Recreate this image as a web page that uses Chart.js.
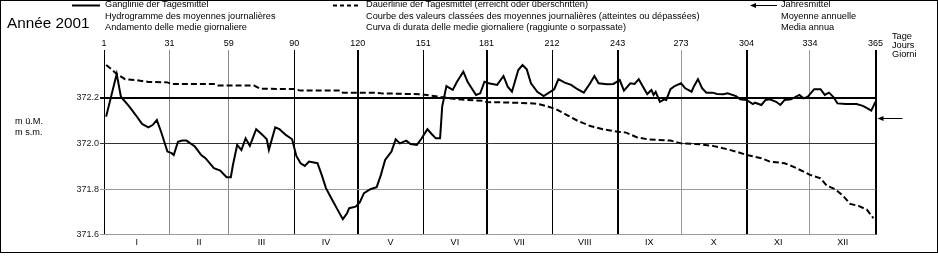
<!DOCTYPE html>
<html>
<head>
<meta charset="utf-8">
<script src="https://cdn.jsdelivr.net/npm/chart.js@4.4.0/dist/chart.umd.min.js"></script>
<style>
  body { margin: 0; background: #fff; }
  #wrap { position: relative; width: 938px; height: 256px; font-family: "Liberation Sans", Arial, sans-serif; color: #000; }
  #wrap canvas { position: absolute; left: 0; top: 0; }
  .t { position: absolute; white-space: nowrap; font-size: 9.2px; line-height: 11.5px; }
  #frame { position: absolute; left: 0; top: 0; width: 938px; height: 253px; box-sizing: border-box; border: 1px solid #000; pointer-events: none; }
</style>
</head>
<body>
<div id="wrap">
  <canvas id="chart" width="938" height="256"></canvas>
  <div id="frame"></div>
  <div class="t" style="left:7px;top:15px;font-size:15.3px;line-height:16px">Année 2001</div>
  <div class="t" style="left:105px;top:-1px">Ganglinie der Tagesmittel<br>Hydrogramme des moyennes journalières<br>Andamento delle medie giornaliere</div>
  <div class="t" style="left:366px;top:-1px">Dauerlinie der Tagesmittel (erreicht oder überschritten)<br>Courbe des valeurs classées des moyennes journalières (atteintes ou dépassées)<br>Curva di durata delle medie giornaliere (raggiunte o sorpassate)</div>
  <div class="t" style="left:781px;top:-1px">Jahresmittel<br>Moyenne annuelle<br>Media annua</div>
  <div class="t" style="left:15px;top:116px;line-height:11px">m ü.M.<br>m s.m.</div>
  <div class="t" style="left:892px;top:31px">Tage</div>
  <div class="t" style="left:892px;top:39.5px">Jours</div>
  <div class="t" style="left:892px;top:48.5px">Giorni</div>
</div>
<script>
// month boundaries (day of year) and their labels
const monthEnds = [0, 31, 59, 90, 120, 151, 181, 212, 243, 273, 304, 334, 365];
const dayLabels = ["1", "31", "59", "90", "120", "151", "181", "212", "243", "273", "304", "334", "365"];
const monthNames = ["I", "II", "III", "IV", "V", "VI", "VII", "VIII", "IX", "X", "XI", "XII"];
const yTicks = [371.6, 371.8, 372.0, 372.2];

// Ganglinie der Tagesmittel (m ü.M.)
const hydroDays = [1, 6, 8, 12, 15, 18, 21, 23, 25, 27, 30, 32, 33, 35, 37, 39, 43, 46, 48, 52, 55, 58, 60,
  61, 63, 65, 67, 69, 72, 75, 77, 78, 81, 83, 86, 89, 91, 93, 95, 97, 101, 103, 105, 108, 111, 113, 115, 116, 119,
  121, 123, 126, 129, 131, 133, 136, 138, 140, 143, 145, 148, 150, 153, 155, 157, 159, 160, 162, 165, 167, 170,
  172, 176, 178, 180, 182, 186, 189, 191, 193, 196, 198, 200, 202, 205, 208, 210, 213, 215, 218, 221, 224, 227,
  230, 232, 234, 238, 241, 244, 246, 249, 251, 253, 255, 257, 259, 260, 261, 263, 265, 266, 268, 270, 273, 275,
  278, 279, 281, 283, 285, 288, 290, 293, 295, 299, 301, 304, 307, 308, 311, 313, 315, 318, 320, 322, 325, 329,
  331, 333, 336, 339, 341, 343, 345, 347, 351, 356, 359, 361, 363, 365];
const hydroLevels = [372.117, 372.304, 372.204, 372.161, 372.124, 372.085, 372.070, 372.080, 372.102, 372.051,
  371.964, 371.957, 371.949, 372.007, 372.012, 372.012, 371.986, 371.949, 371.935, 371.891, 371.881, 371.852, 371.852,
  371.905, 371.993, 371.971, 372.022, 371.989, 372.062, 372.037, 372.018, 371.971, 372.070, 372.062, 372.037, 372.018,
  371.945, 371.913, 371.901, 371.920, 371.913, 371.862, 371.804, 371.752, 371.701, 371.668, 371.694, 371.716, 371.723,
  371.741, 371.782, 371.799, 371.808, 371.862, 371.927, 371.964, 372.018, 372.000, 372.012, 371.997, 371.993, 372.018,
  372.062, 372.041, 372.022, 372.022, 372.161, 372.251, 372.234, 372.270, 372.314, 372.270, 372.212, 372.219, 372.270,
  372.263, 372.256, 372.295, 372.248, 372.226, 372.321, 372.343, 372.324, 372.263, 372.226, 372.207, 372.219, 372.237,
  372.281, 372.266, 372.256, 372.237, 372.222, 372.263, 372.295, 372.263, 372.259, 372.260, 372.277, 372.231, 372.263,
  372.260, 372.281, 372.248, 372.216, 372.234, 372.212, 372.226, 372.182, 372.193, 372.190, 372.237, 372.251, 372.263,
  372.241, 372.226, 372.248, 372.281, 372.241, 372.222, 372.222, 372.216, 372.215, 372.219, 372.207, 372.193, 372.190,
  372.172, 372.178, 372.168, 372.190, 372.193, 372.182, 372.168, 372.190, 372.193, 372.212, 372.197, 372.204, 372.237,
  372.237, 372.212, 372.222, 372.204, 372.175, 372.172, 372.172, 372.164, 372.154, 372.143, 372.182];

// Dauerlinie der Tagesmittel (erreicht oder überschritten)
const durationDays = [1, 3, 6, 10, 15, 21, 30, 32, 52, 54, 71, 74, 90, 93, 112, 113, 128, 131, 150, 158, 167, 179,
  181, 194, 203, 206, 209, 214, 219, 224, 230, 236, 243, 247, 252, 257, 262, 268, 273, 282, 288, 295, 299, 304, 311,
  315, 322, 326, 331, 334, 339, 342, 346, 350, 353, 357, 361, 364];
const durationLevels = [372.343, 372.329, 372.304, 372.281, 372.277, 372.269, 372.267, 372.260, 372.260, 372.253,
  372.253, 372.239, 372.238, 372.231, 372.231, 372.222, 372.222, 372.219, 372.215, 372.205, 372.193, 372.186, 372.181,
  372.178, 372.175, 372.171, 372.164, 372.149, 372.124, 372.099, 372.076, 372.062, 372.051, 372.047, 372.027, 372.018,
  372.015, 372.012, 372.000, 371.996, 371.989, 371.974, 371.964, 371.949, 371.935, 371.920, 371.913, 371.898, 371.876,
  371.862, 371.847, 371.814, 371.799, 371.767, 371.735, 371.726, 371.709, 371.672];

const annualMean = 372.11;

// look of the month lines, as in the original print
const vColors = ["#000", "#888", "#888", "#000", "#000", "#000", "#000", "#000", "#000", "#999", "#000", "#999", "#000"];
const vWidths = [1, 1, 1, 1, 2, 1, 2, 1, 2, 1, 2, 1, 2];
const hStyle = { "371.6": ["#999", 1], "371.8": ["#999", 1], "372": ["#333", 1], "372.2": ["#000", 2] };

const monthMids = monthNames.map((m, i) => (monthEnds[i] + monthEnds[i + 1]) / 2);

const arrowPlugin = {
    id: "arrows",
    afterDraw(chart) {
        const ctx = chart.ctx;
        const area = chart.chartArea;
        ctx.save();
        ctx.strokeStyle = "#000";
        ctx.fillStyle = "#000";

        // legend samples
        ctx.lineWidth = 2;
        ctx.beginPath(); ctx.moveTo(72, 5.5); ctx.lineTo(100, 5.5); ctx.stroke();
        ctx.setLineDash([4, 3]);
        ctx.beginPath(); ctx.moveTo(333, 5.5); ctx.lineTo(359, 5.5); ctx.stroke();
        ctx.setLineDash([]);
        drawArrow(ctx, 750, 777, 5.5);

        // annual mean
        const y = chart.scales.y.getPixelForValue(annualMean);
        drawArrow(ctx, area.right + 2, area.right + 27, Math.round(y) + 0.5);
        ctx.restore();
    }
};

function drawArrow(ctx, x0, x1, y) {
    ctx.lineWidth = 1;
    ctx.beginPath(); ctx.moveTo(x0 + 4, y); ctx.lineTo(x1, y); ctx.stroke();
    ctx.beginPath();
    ctx.moveTo(x0, y); ctx.lineTo(x0 + 6, y - 2.5); ctx.lineTo(x0 + 6, y + 2.5);
    ctx.closePath(); ctx.fill();
}

Chart.defaults.font.family = "'Liberation Sans', Arial, sans-serif";
Chart.defaults.font.size = 9;
Chart.defaults.color = "#000";

new Chart(document.getElementById("chart"), {
    type: "line",
    data: {
        datasets: [{
            label: "Ganglinie der Tagesmittel",
            data: hydroDays.map((d, i) => ({ x: d, y: hydroLevels[i] })),
            borderColor: "#000",
            borderWidth: 2,
            pointRadius: 0,
            tension: 0
        }, {
            label: "Dauerlinie der Tagesmittel",
            data: durationDays.map((d, i) => ({ x: d, y: durationLevels[i] })),
            borderColor: "#000",
            borderWidth: 2,
            borderDash: [6, 3],
            pointRadius: 0,
            tension: 0
        }]
    },
    options: {
        responsive: false,
        animation: false,
        devicePixelRatio: 1,
        layout: { padding: { left: 0, top: 0, right: 62.5, bottom: 0 } },
        plugins: { legend: { display: false }, tooltip: { enabled: false } },
        scales: {
            x: {
                type: "linear",
                position: "top",
                min: 0,
                max: 365,
                afterBuildTicks: s => { s.ticks = monthEnds.map(v => ({ value: v })); },
                afterFit: s => { s.height = 52; },
                border: { display: false },
                grid: {
                    color: c => vColors[c.index],
                    lineWidth: c => vWidths[c.index],
                    tickLength: 2
                },
                ticks: {
                    autoSkip: false,
                    maxRotation: 0,
                    padding: 1,
                    callback: (v, i) => dayLabels[i]
                }
            },
            x2: {
                type: "linear",
                position: "bottom",
                min: 0,
                max: 365,
                afterBuildTicks: s => { s.ticks = monthMids.map(v => ({ value: v })); },
                afterFit: s => { s.height = 21.3; },
                border: { display: false },
                grid: { display: false, drawTicks: false },
                ticks: {
                    autoSkip: false,
                    maxRotation: 0,
                    padding: 2,
                    callback: (v, i) => monthNames[i]
                }
            },
            y: {
                min: 371.6,
                max: 372.4,
                afterBuildTicks: s => { s.ticks = yTicks.map(v => ({ value: v })); },
                afterFit: s => { s.width = 104; },
                border: { display: false },
                grid: {
                    color: c => hStyle[String(c.tick.value)][0],
                    lineWidth: c => hStyle[String(c.tick.value)][1],
                    tickLength: 4
                },
                ticks: {
                    padding: 1,
                    color: "#222",
                    callback: v => v.toFixed(1)
                }
            }
        }
    },
    plugins: [arrowPlugin]
});
</script>
</body>
</html>
